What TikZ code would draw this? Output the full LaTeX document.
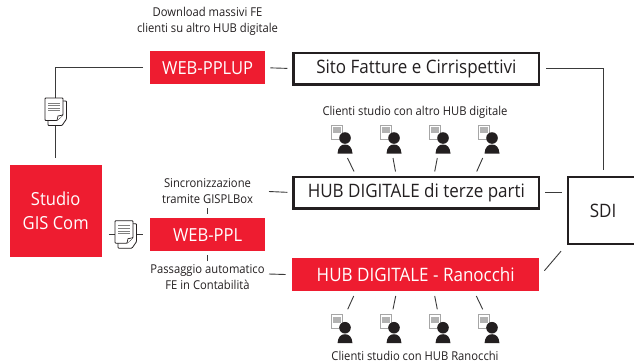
\documentclass[tikz,border=0pt]{standalone}
\usepackage{fontspec}
\setmainfont{Open Sans}[FakeStretch=0.92]
\usetikzlibrary{calc}
\definecolor{gisred}{HTML}{EE1C30}
\definecolor{ink}{HTML}{231F20}
\definecolor{wire}{HTML}{3A3A3A}
\tikzset{
  redbox/.style={fill=gisred,text=white,inner sep=0pt,align=center,anchor=north west},
  framebox/.style={draw=ink,line width=2.6pt,fill=white,text=ink,inner sep=0pt,align=center,anchor=north west},
  caption/.style={text=ink,inner sep=0pt,align=center,font=\fontsize{12.2}{15.4}\selectfont},
  wirelink/.style={draw=wire,line width=0.9pt},
  gap/.style={shorten >=#1,shorten <=#1},
  pics/docicon/.style={code={
    \draw[draw=ink,line width=0.8pt,fill=white,rounded corners=0.8pt] (3,3) -- (21.5,3) -- (21.5,21) -- (17,27.5) -- (3,27.5) -- cycle;
    \draw[draw=ink,line width=0.8pt,fill=white,rounded corners=0.8pt] (0,0) -- (18,0) -- (18,17) -- (12,22.5) -- (0,22.5) -- cycle;
    \draw[draw=ink,line width=0.7pt,fill=white] (18,17) -- (13,18) -- (12,22.5);
    \foreach \yy in {5.2,7.8,10.4,12.6}{\draw[draw=gray,line width=1.1pt] (3,\yy) -- (15,\yy);}
  }},
  pics/clienticon/.style={code={
    \draw[draw=gray!70,line width=0.7pt,fill=white] (-14,-13) rectangle (-2.5,1);
    \fill[gray!60] (-12.5,-11) rectangle (-4.5,-5);
    \fill[ink] (0,0) circle (5.8);
    \fill[ink] (-7.5,15.5) .. controls (-7,9) and (-4,6.5) .. (0,6.5) .. controls (4,6.5) and (7,9) .. (7.5,15.5) -- cycle;
  }}
}
\begin{document}
\begin{tikzpicture}[x=1pt,y=-1pt]
\useasboundingbox (0,0) rectangle (634,362);
\node[redbox,minimum width=92pt,minimum height=92pt,font=\fontsize{18}{24}\selectfont] (studio) at (9.5,165) {Studio\\GIS Com};
\node[redbox,minimum width=115pt,minimum height=33pt,font=\fontsize{18}{20}\selectfont] (pplup) at (150,51) {WEB-PPLUP};
\node[redbox,minimum width=115pt,minimum height=33pt,font=\fontsize{18}{20}\selectfont] (ppl) at (150,218) {WEB-PPL};
\node[framebox,minimum width=245.5pt,minimum height=31.5pt,font=\fontsize{18.5}{20}\selectfont] (sito) at (292.3,51.5) {Sito Fatture e Cirrispettivi};
\node[framebox,minimum width=245.5pt,minimum height=31.5pt,font=\fontsize{18.5}{20}\selectfont] (terze) at (292.3,175.5) {HUB DIGITALE di terze parti};
\node[redbox,minimum width=247pt,minimum height=33pt,font=\fontsize{18.5}{20}\selectfont] (ranocchi) at (292,258) {HUB DIGITALE - Ranocchi};
\node[framebox,line width=2.2pt,minimum width=70pt,minimum height=67pt,font=\fontsize{18.5}{20}\selectfont] (sdi) at (567,176) {SDI};
\node[caption] (download) at (207.5,21.5) {Download massivi FE\\clienti su altro HUB digitale};
\node[caption] (sync) at (207.5,191) {Sincronizzazione\\tramite GISPLBox};
\node[caption] (passaggio) at (207.5,277) {Passaggio automatico\\FE in Contabilità};
\node[caption] (altri) at (415,112) {Clienti studio con altro HUB digitale};
\node[caption] (clienti) at (415,355.5) {Clienti studio con HUB Ranocchi};
\coordinate (studioppl) at (studio.east |- ppl.west);
\draw[wirelink,gap=7pt] (pplup.west) -| (studio.north);
\draw[wirelink,gap=7pt] (studioppl) -- (ppl.west);
\draw[wirelink,gap=5pt] (pplup.east) -- (sito.west);
\draw[wirelink,gap=6pt] (sito.east) -| (sdi.north);
\draw[wirelink,gap=5pt] (terze.east) -- (sdi.west |- terze.east);
\coordinate (syncend) at (269,191.5);
\coordinate (passend) at (269,274);
\draw[wirelink,shorten >=5pt] (syncend) -- (terze.west);
\draw[wirelink,shorten >=6.5pt] (passend) -- (ranocchi.west);
\coordinate (ranend) at (ranocchi.east);
\coordinate (sdicorner) at (sdi.south west);
\draw[wirelink] ($(ranend)+(5,-4)$) -- ($(sdicorner)+(-6,6)$);
\coordinate (synctick) at (ppl.north |- 0,208);
\coordinate (passtick) at (ppl.south |- 0,261);
\draw[wirelink,shorten >=4pt] (synctick) -- (ppl.north);
\draw[wirelink,shorten >=4pt] (passtick) -- (ppl.south);
\pic at (45,98) {docicon};
\pic at (115,220.7) {docicon};
\foreach \nn/\xx/\xa/\xb/\xc/\xd in {a/345/347.5/354/353.7/347.7,b/394/393/395.5/395.7/393,c/443/437.3/434.7/434.7/437.3,d/492/482.7/476.7/476.3/482.7}{
  \pic at (\xx,138) {clienticon};
  \pic at (\xx,327.7) {clienticon};
  \coordinate (u\nn) at (\xa,158);
  \coordinate (v\nn) at (\xb,171.5);
  \coordinate (p\nn) at (\xc,296);
  \coordinate (q\nn) at (\xd,309.3);
  \draw[wirelink] (u\nn) -- (v\nn);
  \draw[wirelink] (p\nn) -- (q\nn);
}
\end{tikzpicture}
\end{document}
